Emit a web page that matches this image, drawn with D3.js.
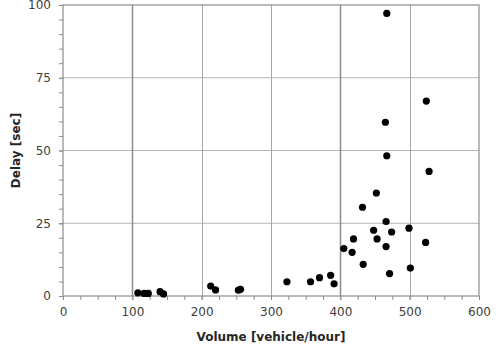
<!DOCTYPE html>
<html>
<head>
<meta charset="utf-8">
<script src="https://cdn.jsdelivr.net/npm/d3@7"></script>
<style>
  body { margin: 0; background: #fff; }
  svg { display: block; font-family: "DejaVu Sans", Verdana, sans-serif; }
  .tick text { fill: #404040; font-size: 12px; }
  .title { font-weight: bold; font-size: 12px; fill: #262626; }
</style>
</head>
<body>
<div id="chart"></div>
<script>
// volume [vehicle/hour] and delay [sec]
var volume = [108, 117, 123, 140, 145, 213, 220, 253, 256,
              323, 357, 370, 386, 391, 405, 417, 419, 433, 432,
              448, 453, 452, 466, 466, 471, 474, 499, 501, 523,
              528, 524, 465, 467, 467];
var delay  = [1.1, 0.9, 0.9, 1.5, 0.7, 3.4, 2.1, 2.0, 2.3,
              4.9, 4.9, 6.3, 7.1, 4.2, 16.3, 15.0, 19.6, 10.9, 30.5,
              22.6, 19.6, 35.4, 25.6, 17.0, 7.7, 22.0, 23.3, 9.6, 18.4,
              42.8, 67.0, 59.7, 48.2, 97.1];

var xTicks = [0, 100, 200, 300, 400, 500, 600];
var yTicks = [0, 25, 50, 75, 100];
var xGrid = [100, 200, 300, 400, 500];
var yGrid = [25, 50, 75];

var points = volume.map(function(v, i) { return {x: v, y: delay[i]}; });

var width = 501, height = 347;
var plotLeft = 63, plotRight = 479, plotTop = 5, plotBottom = 296;

var svg = d3.select("#chart").append("svg")
    .attr("width", width)
    .attr("height", height);

var x = d3.scaleLinear().domain([0, 600]).range([plotLeft, plotRight]);
var y = d3.scaleLinear().domain([0, 100]).range([plotBottom, plotTop]);

// gridlines
svg.append("g").selectAll("line")
    .data(yGrid)
    .enter().append("line")
        .attr("x1", plotLeft).attr("x2", plotRight)
        .attr("y1", function(d) { return y(d); })
        .attr("y2", function(d) { return y(d); })
        .attr("stroke", "#b4b4b4")
        .attr("stroke-width", 1);

svg.append("g").selectAll("line")
    .data(xGrid)
    .enter().append("line")
        .attr("x1", function(d) { return Math.round(x(d)) + 0.5; })
        .attr("x2", function(d) { return Math.round(x(d)) + 0.5; })
        .attr("y1", plotTop).attr("y2", plotBottom)
        .attr("stroke", function(d) { return (d === 100 || d === 400) ? "#8c8c8c" : "#a6a6a6"; })
        .attr("stroke-width", function(d) { return (d === 100 || d === 400) ? 1.5 : 1; });

// plot frame
svg.append("rect")
    .attr("x", plotLeft).attr("y", plotTop)
    .attr("width", plotRight - plotLeft).attr("height", plotBottom - plotTop)
    .attr("fill", "none")
    .attr("stroke", "#8c8c8c")
    .attr("stroke-width", 1.2);

// minor ticks
var xMinor = d3.range(0, 601, 25);
var yMinor = d3.range(0, 101, 5);

svg.append("g")
    .attr("transform", "translate(0," + plotBottom + ")")
    .call(d3.axisBottom(x).tickValues(xMinor).tickSize(4).tickFormat(""))
    .call(function(g) {
        g.select(".domain").remove();
        g.selectAll("line").attr("stroke", "#8c8c8c");
    });

svg.append("g")
    .attr("transform", "translate(" + plotLeft + ",0)")
    .call(d3.axisLeft(y).tickValues(yMinor).tickSize(4).tickFormat(""))
    .call(function(g) {
        g.select(".domain").remove();
        g.selectAll("line").attr("stroke", "#8c8c8c");
    });

// labelled axes
svg.append("g")
    .attr("transform", "translate(0," + plotBottom + ")")
    .call(d3.axisBottom(x).tickValues(xTicks).tickSize(4).tickPadding(7))
    .call(function(g) {
        g.select(".domain").remove();
        g.selectAll("line").attr("stroke", "#8c8c8c");
        g.selectAll("text").style("font-family", "DejaVu Sans");
    });

svg.append("g")
    .attr("transform", "translate(" + plotLeft + ",0)")
    .call(d3.axisLeft(y).tickValues(yTicks).tickSize(4).tickPadding(8))
    .call(function(g) {
        g.select(".domain").remove();
        g.selectAll("line").attr("stroke", "#8c8c8c");
        g.selectAll("text").style("font-family", "DejaVu Sans");
    });

// points
svg.append("g").selectAll("circle")
    .data(points)
    .enter().append("circle")
        .attr("cx", function(d) { return x(d.x); })
        .attr("cy", function(d) { return y(d.y); })
        .attr("r", 3.6)
        .attr("fill", "#000");

// axis titles
svg.append("text")
    .attr("class", "title")
    .attr("x", (plotLeft + plotRight) / 2)
    .attr("y", 341)
    .style("text-anchor", "middle")
    .text("Volume [vehicle/hour]");

svg.append("text")
    .attr("class", "title")
    .attr("transform", "translate(20," + ((plotTop + plotBottom) / 2) + ")rotate(-90)")
    .style("text-anchor", "middle")
    .text("Delay [sec]");
</script>
</body>
</html>
